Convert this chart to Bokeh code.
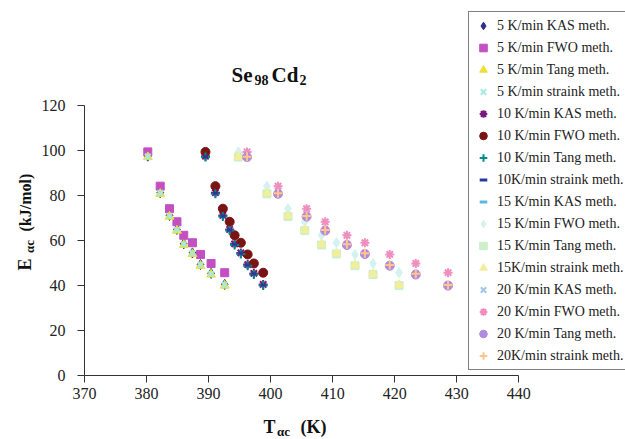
import math
from bokeh.plotting import figure
from bokeh.models import Range1d, FixedTicker, Label
from bokeh.layouts import column, row
from bokeh.embed import file_html
from bokeh.resources import INLINE

# Temperatures (K) for each heating rate
T_5 = [380.2, 382.2, 383.7, 384.9, 386.0, 387.4, 388.7, 390.4, 392.6]
T_10 = [389.5, 391.1, 392.3, 393.4, 394.2, 395.2, 396.3, 397.3, 398.8]
T_15 = [394.8, 399.4, 402.8, 405.5, 408.2, 410.6, 413.6, 416.5, 420.7]
T_20 = [396.2, 401.2, 405.8, 408.8, 412.3, 415.2, 419.2, 423.4, 428.6]

# Activation energies (kJ/mol) for each method
E_KAS = [97.3, 81.1, 71.0, 64.8, 58.4, 54.4, 49.2, 45.3, 40.4]
E_FWO = [99.2, 84.0, 74.0, 68.2, 62.2, 58.9, 53.7, 49.7, 45.6]
E_Tang = [96.9, 80.6, 70.5, 64.3, 57.9, 53.9, 48.7, 44.8, 39.9]
E_straink = [97.1, 80.9, 70.8, 64.6, 58.2, 54.2, 49.0, 45.1, 40.2]

series_labels = [
    "5 K/min KAS meth.", "5 K/min FWO meth.", "5 K/min Tang meth.", "5 K/min straink meth.",
    "10 K/min KAS meth.", "10 K/min FWO meth.", "10 K/min Tang meth.", "10K/min straink meth.",
    "15 K/min KAS meth.", "15 K/min FWO meth.", "15 K/min Tang meth.", "15K/min straink meth.",
    "20 K/min KAS meth.", "20 K/min FWO meth.", "20 K/min Tang meth.", "20K/min straink meth.",
]
x_ticks = [370, 380, 390, 400, 410, 420, 430, 440]
y_ticks = [0, 20, 40, 60, 80, 100, 120]

series_T = [T_5] * 4 + [T_10] * 4 + [T_15] * 4 + [T_20] * 4
series_E = [E_KAS, E_FWO, E_Tang, E_straink] * 4

styles = [
    ("diamond", "#2E2E8C", 10, 1),
    ("square", "#C34FC3", 8, 1),
    ("triangle", "#EDE133", 9, 1),
    ("x", "#A6E8E8", 8, 2),
    ("asterisk", "#7B1A7B", 9, 2),
    ("circle", "#7A1414", 9, 1),
    ("cross", "#008B8B", 9, 2),
    ("dash", "#2B3A9A", 5, 3),
    ("dash", "#5DB8E0", 8, 3),
    ("diamond", "#D4F2F2", 10, 1),
    ("square", "#CDEFCB", 8, 1),
    ("triangle", "#F3EE9A", 9, 1),
    ("x", "#A3C4EC", 8, 2),
    ("asterisk", "#F08EC0", 9, 2),
    ("circle", "#B08ADE", 9, 1),
    ("cross", "#FFC58A", 9, 2),
]

PX_PER_K = 6.25
PX_PER_E = 2.254
FRAME_W = 545
FRAME_H = 375

p = figure(width=587, height=410, output_backend="svg", toolbar_location=None,
           x_range=Range1d(x_ticks[0], x_ticks[0] + FRAME_W / PX_PER_K),
           y_range=Range1d(y_ticks[0], y_ticks[0] + FRAME_H / PX_PER_E),
           min_border_left=42, min_border_right=0, min_border_top=0, min_border_bottom=35)
p.outline_line_color = None
p.xgrid.visible = False
p.ygrid.visible = False

for lab, T, E, (mk, col, sz, lw) in zip(series_labels, series_T, series_E, styles):
    p.scatter(T, E, marker=mk, size=sz, fill_color=col, line_color=col,
              line_width=lw, legend_label=lab)

for ax in (p.xaxis[0], p.yaxis[0]):
    ax.axis_line_color = "#333333"
    ax.axis_line_width = 1
    ax.major_tick_line_color = "#333333"
    ax.major_tick_out = 7
    ax.major_tick_in = 0
    ax.minor_tick_out = 0
    ax.minor_tick_in = 0
    ax.major_label_text_font = "Liberation Serif"
    ax.major_label_text_font_size = "16px"
    ax.major_label_text_color = "#222222"
p.xaxis[0].ticker = FixedTicker(ticks=x_ticks)
p.yaxis[0].ticker = FixedTicker(ticks=y_ticks)
p.xaxis[0].bounds = (x_ticks[0], x_ticks[-1])
p.yaxis[0].bounds = (y_ticks[0], y_ticks[-1])
p.xaxis[0].major_label_standoff = 5
p.yaxis[0].major_label_standoff = 12

leg = p.legend[0]
leg.location = (384, 5)
leg.border_line_color = "black"
leg.border_line_width = 1.5
leg.background_fill_color = "white"
leg.background_fill_alpha = 1
leg.padding = 4
leg.spacing = 3
leg.label_height = 19
leg.glyph_height = 19
leg.glyph_width = 20
leg.label_standoff = 4
leg.label_width = 140
leg.margin = 0
leg.label_text_font = "Liberation Serif"
leg.label_text_font_size = "14px"
leg.label_text_color = "#222222"


def lbl(fig, text, x, y, size, angle=0.0):
    fig.add_layout(Label(x=x, y=y, x_units="screen", y_units="screen", text=text,
                         text_font="Liberation Serif", text_font_style="bold",
                         text_font_size=size, text_color="#111111",
                         text_align="left", text_baseline="alphabetic", angle=angle))


# title (inside the main frame)
lbl(p, "Se", 147, 301, "21px")
lbl(p, "98", 170, 295.7, "14px")
lbl(p, "Cd", 187, 301, "21px")
lbl(p, "2", 215, 295.7, "14px")


def blank(w, h):
    f = figure(width=w, height=h, output_backend="svg", toolbar_location=None,
               x_axis_type=None, y_axis_type=None,
               x_range=Range1d(0, 1), y_range=Range1d(0, 1),
               min_border_left=0, min_border_right=0, min_border_top=0, min_border_bottom=0)
    f.outline_line_color = None
    f.xgrid.visible = False
    f.ygrid.visible = False
    return f


# y axis label figure (left strip)
ylab = blank(38, 410)
lbl(ylab, "E", 24, 105, "18px", math.pi / 2)
lbl(ylab, "αc", 28.6, 122.5, "13px", math.pi / 2)
lbl(ylab, "(kJ/mol)", 24.6, 144, "16px", math.pi / 2)

# x axis label figure (bottom strip)
xlab = blank(625, 29)
lbl(xlab, "T", 263, 12.1, "18px")
lbl(xlab, "αc", 276.5, 7.9, "13px")
lbl(xlab, "(K)", 300, 12.1, "18px")

layout = column(row(ylab, p, spacing=0), xlab, spacing=0)

open("out.html", "w").write(file_html(layout, INLINE))
